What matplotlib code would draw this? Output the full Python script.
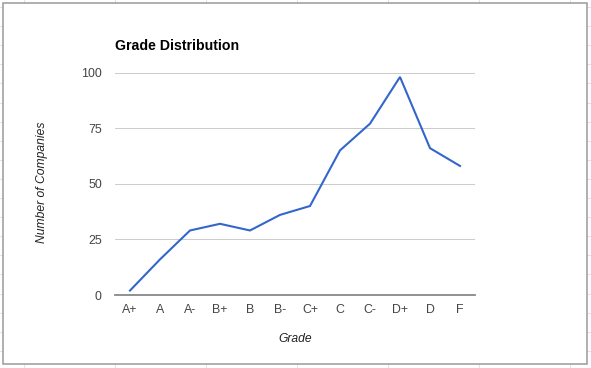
import matplotlib
matplotlib.use('Agg')
import matplotlib.pyplot as plt
from matplotlib.lines import Line2D
import numpy as np

### DATA ###
grades = ['A+', 'A', 'A-', 'B+', 'B', 'B-', 'C+', 'C', 'C-', 'D+', 'D', 'F']
companies = [2, 16, 29, 32, 29, 36, 40, 65, 77, 98, 66, 58]
y_ticks = [0, 25, 50, 75, 100]

W, H = 591, 368
plt.rcParams['font.family'] = ['Liberation Sans', 'DejaVu Sans']

fig = plt.figure(figsize=(W / 100, H / 100), dpi=100)

def px(x, y):
	# pixel coords (from top-left) -> figure fraction
	return x / W, 1 - y / H

# spreadsheet cells behind the chart
grid_c = '#e2e2e2'
for gx in np.arange(24, W, 91.0):
	fig.add_artist(Line2D([gx / W] * 2, [0, 1], color=grid_c, lw=0.7, zorder=0))
for gy in np.arange(7, H, 19.1):
	fig.add_artist(Line2D([0, 1], [1 - gy / H] * 2, color=grid_c, lw=0.7, zorder=0))

# white chart box with grey frame
x0, y0 = px(2.5, 364)
x1, y1 = px(587, 2.5)
fig.add_artist(plt.Rectangle((x0, y0), x1 - x0, y1 - y0, facecolor='white',
	edgecolor='#9a9a9a', lw=1.1, zorder=1, transform=fig.transFigure))

ax_l, ax_b = px(115, 295)
ax_r, ax_t = px(475, 72.5)
ax = fig.add_axes([ax_l, ax_b, ax_r - ax_l, ax_t - ax_b], zorder=2)
ax.patch.set_alpha(0)

x = np.arange(len(grades))
ax.plot(x, companies, color='#3366cc', lw=1.5, solid_joinstyle='miter', zorder=3)

ax.set_xlim(-0.5, len(grades) - 0.5)
ax.set_ylim(0, 100)
ax.set_xticks(x)
ax.set_xticklabels(grades)
ax.set_yticks(y_ticks)
ax.tick_params(axis='both', length=0, labelsize=8.9, labelcolor='#444444')
ax.tick_params(axis='y', pad=9.5)
ax.tick_params(axis='x', pad=6.5)

ax.grid(axis='y', color='#cccccc', lw=0.75)
ax.set_axisbelow(True)
for s in ['top', 'right', 'left']:
	ax.spines[s].set_visible(False)
ax.spines['bottom'].set_color('#888888')
ax.spines['bottom'].set_linewidth(1.3)

ax.set_xlabel('Grade', fontsize=8.7, style='italic', color='#222222', va='center')
ax.xaxis.set_label_coords(0.5, -0.198)
ax.set_ylabel('Number of Companies', fontsize=8.7, style='italic', color='#222222',
	va='center', ha='center')
ax.yaxis.set_label_coords(-0.203, 0.505)

tx, ty = px(115, 46)
fig.text(tx, ty, 'Grade Distribution', fontsize=10.2, fontweight='bold',
	color='#000000', ha='left', va='center', zorder=3)

fig.savefig('out.png', dpi=100)
